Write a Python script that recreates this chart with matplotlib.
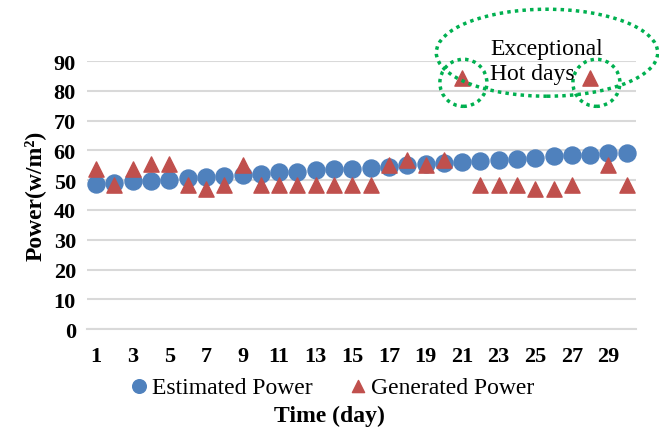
import numpy as np
import matplotlib.pyplot as plt
from matplotlib.patches import Ellipse

plt.rcParams['font.family'] = 'Liberation Serif'

days = np.arange(1, 31)
estimated = [48.6, 49.2, 49.6, 49.8, 50.1, 50.7, 51.2, 51.5, 51.8, 52.2,
             52.6, 52.9, 53.4, 53.6, 53.8, 54.1, 54.6, 55.0, 55.3, 55.8,
             56.0, 56.4, 56.8, 57.2, 57.5, 58.0, 58.3, 58.5, 59.0, 59.2]
generated = [53.8, 48.5, 53.6, 55.5, 55.5, 48.5, 46.9, 48.5, 55.2, 48.5,
             48.5, 48.5, 48.5, 48.5, 48.5, 48.5, 55.1, 56.9, 55.1, 56.9,
             84.2, 48.5, 48.5, 48.5, 46.9, 46.9, 48.5, 84.2, 55.2, 48.5]
yticks = list(range(0, 100, 10))
xticks = list(range(1, 31, 2))

fig = plt.figure(figsize=(6.59, 4.31), dpi=100)
ax = fig.add_axes([0.132, 0.234, 0.833, 0.622])

ax.scatter(days, estimated, s=150, marker='o', color='#4F81BD', zorder=3,
           label='Estimated Power')
ax.scatter(days, generated, s=120, marker='^', color='#C0504D', zorder=4,
           label='Generated Power')

ax.set_xlim(0.5, 30.5)
ax.set_ylim(0, 90)
ax.set_yticks(yticks)
ax.set_xticks(xticks)
ax.tick_params(length=0, labelsize=16)
ax.tick_params(axis='x', pad=12)
ax.tick_params(axis='y', pad=8)
for lab in ax.get_xticklabels() + ax.get_yticklabels():
    lab.set_fontweight('bold')
ax.grid(axis='y', color='#D9D9D9', linewidth=1.5, zorder=0)
ax.set_axisbelow(True)
for s in ['left', 'right', 'top']:
    ax.spines[s].set_visible(False)
ax.spines['bottom'].set_color('#D9D9D9')
ax.spines['bottom'].set_linewidth(1.5)

ax.set_ylabel('Power(w/m²)', fontsize=17, fontweight='bold', labelpad=6)
fig.text(0.5, 0.022, 'Time (day)', ha='center', fontsize=17, fontweight='bold')

fig.legend(loc='center', bbox_to_anchor=(0.502, 0.10), ncol=2, frameon=False,
           fontsize=17, handletextpad=0.05, handlelength=1.0,
           columnspacing=1.4, markerscale=0.8)

# annotation of the exceptional hot days
green = '#00B050'
for xc, yc, w, h in [(25.64, 92.8, 12.1, 29.2), (21.07, 82.7, 2.57, 15.8),
                     (28.34, 82.7, 2.57, 15.8)]:
    e = Ellipse((xc, yc), w, h, fill=False, edgecolor=green, linewidth=2.5,
                linestyle=(0, (1, 1.2)), clip_on=False, zorder=5)
    ax.add_patch(e)
ax.text(22.55, 90.0, 'Exceptional\nHot days', fontsize=17, ha='left',
        va='center', linespacing=1.2, zorder=6)

fig.savefig('out.png', dpi=100)
